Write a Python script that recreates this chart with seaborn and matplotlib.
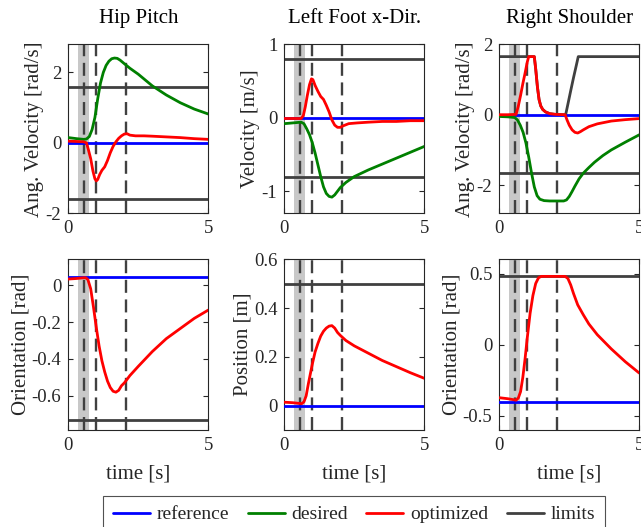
import numpy as np
import pandas as pd
import matplotlib
matplotlib.use("Agg")
import matplotlib.pyplot as plt
import seaborn as sns
from matplotlib.lines import Line2D

sns.set_theme(style="ticks")
plt.rcParams['font.family'] = ['Liberation Serif', 'DejaVu Serif']
plt.rcParams['axes.unicode_minus'] = False
plt.rcParams['mathtext.fontset'] = 'stix'

# ---------------- data ----------------
titles = ["Hip Pitch", "Left Foot x-Dir.", "Right Shoulder"]
ylabels_top = ["Ang. Velocity [rad/s]", "Velocity [m/s]", "Ang. Velocity [rad/s]"]
ylabels_bot = ["Orientation [rad]", "Position [m]", "Orientation [rad]"]
legend_labels = ["reference", "desired", "optimized", "limits"]

shade_span = [0.35, 0.75]
event_times = [0.55, 1.0, 2.05]

# Hip Pitch velocity
hip_vel_des_t = [0, 0.3, 0.55, 0.65, 0.75, 0.85, 0.95, 1.05, 1.15, 1.25, 1.35, 1.45, 1.55, 1.65, 1.75, 1.85, 2.0, 2.2, 2.5, 3.0, 3.5, 4.0, 4.5, 5.0]
hip_vel_des = [0.15, 0.12, 0.10, 0.11, 0.18, 0.38, 0.72, 1.25, 1.7, 2.0, 2.2, 2.32, 2.39, 2.41, 2.40, 2.35, 2.25, 2.12, 1.95, 1.62, 1.36, 1.14, 0.96, 0.82]
hip_vel_opt_t = [0, 0.3, 0.55, 0.65, 0.72, 0.8, 0.88, 0.95, 1.0, 1.05, 1.12, 1.2, 1.3, 1.4, 1.5, 1.6, 1.7, 1.8, 1.9, 2.0, 2.1, 2.2, 2.4, 2.7, 3.0, 3.5, 4.0, 4.5, 5.0]
hip_vel_opt = [0.05, 0.04, 0.03, 0.0, -0.2, -0.45, -0.8, -1.02, -1.08, -1.04, -0.9, -0.78, -0.68, -0.5, -0.28, -0.1, 0.03, 0.13, 0.2, 0.25, 0.26, 0.22, 0.2, 0.2, 0.19, 0.17, 0.15, 0.12, 0.1]
hip_vel_ref = [0.0, 0.0]
hip_vel_lim_up = [1.6, 1.6]
hip_vel_lim_lo = [-1.6, -1.6]

# Left foot velocity
foot_vel_des_t = [0, 0.3, 0.6, 0.7, 0.8, 0.9, 1.0, 1.1, 1.2, 1.3, 1.4, 1.5, 1.6, 1.7, 1.8, 1.9, 2.0, 2.2, 2.5, 3.0, 3.5, 4.0, 4.5, 5.0]
foot_vel_des = [-0.08, -0.07, -0.06, -0.08, -0.15, -0.23, -0.34, -0.48, -0.64, -0.8, -0.94, -1.03, -1.07, -1.08, -1.05, -1.0, -0.95, -0.88, -0.8, -0.71, -0.63, -0.55, -0.47, -0.39]
foot_vel_opt_t = [0, 0.3, 0.6, 0.68, 0.75, 0.82, 0.9, 0.97, 1.02, 1.1, 1.2, 1.3, 1.4, 1.5, 1.6, 1.7, 1.8, 1.9, 2.0, 2.1, 2.3, 2.6, 3.0, 3.5, 4.0, 4.5, 5.0]
foot_vel_opt = [-0.01, -0.01, -0.01, 0.03, 0.15, 0.3, 0.45, 0.53, 0.52, 0.44, 0.36, 0.29, 0.25, 0.17, 0.08, -0.03, -0.1, -0.13, -0.13, -0.11, -0.08, -0.07, -0.06, -0.05, -0.05, -0.04, -0.04]
foot_vel_ref = [0.0, 0.0]
foot_vel_lim_up = [0.8, 0.8]
foot_vel_lim_lo = [-0.8, -0.8]

# Right shoulder velocity
sh_vel_des_t = [0, 0.3, 0.55, 0.65, 0.75, 0.85, 0.95, 1.05, 1.15, 1.25, 1.35, 1.45, 1.6, 1.8, 2.0, 2.3, 2.4, 2.5, 2.6, 2.7, 2.85, 3.0, 3.2, 3.4, 3.7, 4.0, 4.5, 5.0]
sh_vel_des = [-0.05, -0.06, -0.08, -0.15, -0.3, -0.5, -0.8, -1.2, -1.65, -2.05, -2.3, -2.4, -2.44, -2.45, -2.45, -2.45, -2.42, -2.32, -2.18, -2.03, -1.82, -1.66, -1.5, -1.35, -1.16, -1.0, -0.78, -0.57]
sh_vel_opt_t = [0, 0.3, 0.6, 0.68, 0.76, 0.84, 0.92, 1.0, 1.05, 1.25, 1.3, 1.36, 1.42, 1.48, 1.55, 1.65, 1.8, 2.0, 2.35, 2.42, 2.5, 2.6, 2.7, 2.8, 2.9, 3.0, 3.2, 3.5, 4.0, 4.5, 5.0]
sh_vel_opt = [0.0, 0.0, 0.01, 0.25, 0.55, 0.88, 1.18, 1.5, 1.65, 1.65, 1.3, 0.8, 0.43, 0.25, 0.15, 0.08, 0.03, 0.01, 0.0, -0.15, -0.3, -0.43, -0.5, -0.52, -0.48, -0.43, -0.34, -0.26, -0.18, -0.14, -0.11]
sh_vel_ref = [0.0, 0.0]
sh_vel_lim_up_t = [0, 1.25, 1.3, 1.36, 1.42, 1.48, 1.55, 1.65, 1.8, 2.0, 2.37, 2.45, 2.55, 2.65, 2.75, 2.82, 5.0]
sh_vel_lim_up = [1.65, 1.65, 1.3, 0.8, 0.43, 0.25, 0.15, 0.08, 0.03, 0.01, 0.0, 0.3, 0.68, 1.05, 1.4, 1.65, 1.65]
sh_vel_lim_lo = [-1.65, -1.65]

# Hip orientation
hip_pos_opt_t = [0, 0.3, 0.55, 0.62, 0.7, 0.8, 0.9, 1.0, 1.1, 1.2, 1.3, 1.4, 1.5, 1.6, 1.7, 1.8, 1.9, 2.0, 2.2, 2.5, 3.0, 3.5, 4.0, 4.5, 5.0]
hip_pos_opt = [0.033, 0.036, 0.04, 0.04, 0.03, -0.02, -0.12, -0.23, -0.33, -0.41, -0.47, -0.52, -0.555, -0.575, -0.58, -0.57, -0.545, -0.53, -0.49, -0.44, -0.36, -0.29, -0.235, -0.18, -0.135]
hip_pos_ref = [0.045, 0.045]
hip_pos_lim_lo = [-0.73, -0.73]

# Left foot position
foot_pos_opt_t = [0, 0.3, 0.62, 0.7, 0.78, 0.86, 0.93, 1.0, 1.1, 1.2, 1.3, 1.4, 1.5, 1.6, 1.7, 1.8, 1.9, 2.0, 2.2, 2.5, 3.0, 3.5, 4.0, 4.5, 5.0]
foot_pos_opt = [0.014, 0.012, 0.008, 0.015, 0.04, 0.09, 0.13, 0.17, 0.22, 0.255, 0.285, 0.305, 0.318, 0.326, 0.328, 0.318, 0.3, 0.288, 0.267, 0.245, 0.215, 0.185, 0.16, 0.135, 0.112]
foot_pos_ref = [0.0, 0.0]
foot_pos_lim_up = [0.5, 0.5]

# Right shoulder orientation
sh_pos_opt_t = [0, 0.3, 0.6, 0.68, 0.76, 0.84, 0.92, 1.0, 1.1, 1.2, 1.3, 1.4, 1.5, 2.35, 2.45, 2.55, 2.65, 2.8, 3.0, 3.2, 3.5, 4.0, 4.5, 5.0]
sh_pos_opt = [-0.373, -0.38, -0.39, -0.375, -0.33, -0.23, -0.1, 0.05, 0.22, 0.345, 0.43, 0.47, 0.48, 0.48, 0.465, 0.42, 0.36, 0.28, 0.21, 0.145, 0.07, -0.03, -0.12, -0.2]
sh_pos_ref = [-0.4, -0.4]
sh_pos_lim_up = [0.48, 0.48]

span_t = [0, 5]

C_REF, C_DES, C_OPT, C_LIM = "#0000ff", "#008000", "#ff0000", "#404040"
LW = 2.0

fig = plt.figure(figsize=(6.41, 5.27), dpi=100)
W, H = 641, 527
lefts = [68.3, 284.3, 499.3]
aw = 140
top_rows = [(44.3, 213.3), (259.3, 430)]

def make_ax(col, row):
    y0, y1 = top_rows[row]
    return fig.add_axes([lefts[col] / W, 1 - y1 / H, aw / W, (y1 - y0) / H])

def line(ax, t, v, color, z, ls='-'):
    df = pd.DataFrame({"t": t, "v": v})
    sns.lineplot(data=df, x="t", y="v", ax=ax, color=color, lw=LW,
                 sort=False, estimator=None, zorder=z, linestyle=ls)

def decorate(ax, ylim, yticks, yticklabels, ylabel, xlabel=None, title=None):
    ax.axvspan(shade_span[0], shade_span[1], color="#c8c8c8", lw=0, zorder=0)
    for et in event_times:
        ax.axvline(et, color=C_LIM, lw=1.7, dashes=(5.5, 2.8), zorder=1)
    ax.set_xlim(0, 5)
    ax.set_ylim(*ylim)
    ax.set_xticks([0, 5])
    ax.set_xticklabels(["0", "5"])
    ax.set_yticks(yticks)
    ax.set_yticklabels(yticklabels)
    ax.tick_params(direction="in", length=3.5, width=0.8, top=True, right=True,
                   labelsize=13.5, colors="#262626", pad=5)
    for s in ax.spines.values():
        s.set_color("#262626")
        s.set_linewidth(0.8)
        s.set_visible(True)
    ax.set_ylabel(ylabel, fontsize=15, color="#262626", labelpad=1)
    ax.set_xlabel(xlabel if xlabel else "", fontsize=15, color="#262626", labelpad=7.5)
    if title:
        ax.set_title(title, fontsize=15, color="#000000", pad=15)
    ax.set_facecolor("white")

# Top row
ax = make_ax(0, 0)
line(ax, span_t, hip_vel_lim_up, C_LIM, 2)
line(ax, span_t, hip_vel_lim_lo, C_LIM, 2)
line(ax, span_t, hip_vel_ref, C_REF, 3)
line(ax, hip_vel_des_t, hip_vel_des, C_DES, 4)
line(ax, hip_vel_opt_t, hip_vel_opt, C_OPT, 5)
decorate(ax, (-2, 2.8), [-2, 0, 2], ["-2", "0", "2"], ylabels_top[0], title=titles[0])

ax = make_ax(1, 0)
line(ax, span_t, foot_vel_lim_up, C_LIM, 2)
line(ax, span_t, foot_vel_lim_lo, C_LIM, 2)
line(ax, span_t, foot_vel_ref, C_REF, 3)
line(ax, foot_vel_des_t, foot_vel_des, C_DES, 4)
line(ax, foot_vel_opt_t, foot_vel_opt, C_OPT, 5)
decorate(ax, (-1.3, 1.0), [-1, 0, 1], ["-1", "0", "1"], ylabels_top[1], title=titles[1])

ax = make_ax(2, 0)
line(ax, sh_vel_lim_up_t, sh_vel_lim_up, C_LIM, 2)
line(ax, span_t, sh_vel_lim_lo, C_LIM, 2)
line(ax, span_t, sh_vel_ref, C_REF, 3)
line(ax, sh_vel_des_t, sh_vel_des, C_DES, 4)
line(ax, sh_vel_opt_t, sh_vel_opt, C_OPT, 5)
decorate(ax, (-2.8, 2.0), [-2, 0, 2], ["-2", "0", "2"], ylabels_top[2], title=titles[2])

# Bottom row
ax = make_ax(0, 1)
line(ax, span_t, hip_pos_lim_lo, C_LIM, 2)
line(ax, span_t, hip_pos_ref, C_REF, 3)
line(ax, hip_pos_opt_t, hip_pos_opt, C_OPT, 5)
decorate(ax, (-0.785, 0.14), [-0.6, -0.4, -0.2, 0], ["-0.6", "-0.4", "-0.2", "0"],
         ylabels_bot[0], xlabel="time [s]")

ax = make_ax(1, 1)
line(ax, span_t, foot_pos_lim_up, C_LIM, 2)
line(ax, span_t, foot_pos_ref, C_REF, 3)
line(ax, foot_pos_opt_t, foot_pos_opt, C_OPT, 5)
decorate(ax, (-0.1, 0.6), [0, 0.2, 0.4, 0.6], ["0", "0.2", "0.4", "0.6"],
         ylabels_bot[1], xlabel="time [s]")

ax = make_ax(2, 1)
line(ax, span_t, sh_pos_lim_up, C_LIM, 2)
line(ax, span_t, sh_pos_ref, C_REF, 3)
line(ax, sh_pos_opt_t, sh_pos_opt, C_OPT, 5)
decorate(ax, (-0.6, 0.6), [-0.5, 0, 0.5], ["-0.5", "0", "0.5"],
         ylabels_bot[2], xlabel="time [s]")

handles = [Line2D([], [], color=c, lw=LW) for c in [C_REF, C_DES, C_OPT, C_LIM]]
leg = fig.legend(handles, legend_labels, loc="upper center", ncol=4,
                 bbox_to_anchor=(354 / W, 1 - 496 / H), fontsize=14,
                 frameon=True, fancybox=False, edgecolor="#262626",
                 handlelength=1.9, handletextpad=0.35, columnspacing=0.95,
                 borderpad=0.5, borderaxespad=0)
leg.get_frame().set_linewidth(0.8)

fig.savefig("out.png", dpi=100, facecolor="white")
